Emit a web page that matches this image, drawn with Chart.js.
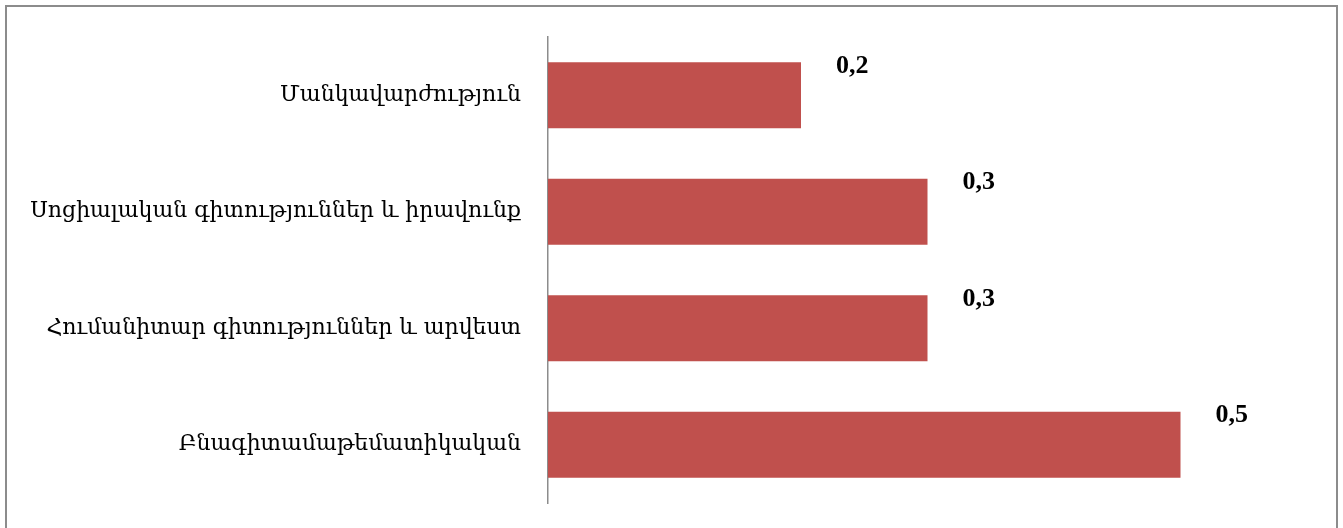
<!DOCTYPE html>
<html>
<head>
<meta charset="utf-8">
<script src="https://cdn.jsdelivr.net/npm/chart.js@4"></script>
<style>
  html, body { margin: 0; padding: 0; background: #fff; overflow: hidden; }
  #wrap { position: relative; width: 1343px; height: 528px; }
</style>
</head>
<body>
<div id="wrap"><canvas id="chart"></canvas></div>
<script>
const categories = [
  'Մանկավարժություն',
  'Սոցիալական գիտություններ և իրավունք',
  'Հումանիտար գիտություններ և արվեստ',
  'Բնագիտամաթեմատիկական'
];
const values = [0.2, 0.3, 0.3, 0.5];
const valueLabels = ['0,2', '0,3', '0,3', '0,5'];

const frame = {
  id: 'frame',
  beforeDraw(chart) {
    const ctx = chart.ctx;
    ctx.save();
    ctx.fillStyle = '#fff';
    ctx.fillRect(0, 0, chart.width, chart.height);
    ctx.strokeStyle = '#8c8c8c';
    ctx.lineWidth = 2;
    ctx.strokeRect(6, 6, 1331, 540);
    ctx.restore();
  }
};

const barLabels = {
  id: 'barLabels',
  afterDatasetsDraw(chart) {
    const ctx = chart.ctx;
    const meta = chart.getDatasetMeta(0);
    ctx.save();
    ctx.font = 'bold 26px "Liberation Serif"';
    ctx.fillStyle = '#000';
    ctx.textAlign = 'left';
    ctx.textBaseline = 'middle';
    meta.data.forEach((bar, i) => {
      ctx.fillText(valueLabels[i], bar.x + 35, bar.y - bar.height / 2 + 4);
    });
    ctx.restore();
  }
};

new Chart(document.getElementById('chart'), {
  type: 'bar',
  data: {
    labels: categories,
    datasets: [{
      data: values,
      backgroundColor: '#C0504D',
      borderWidth: 0,
      barPercentage: 0.567,
      categoryPercentage: 1
    }]
  },
  options: {
    indexAxis: 'y',
    responsive: true,
    maintainAspectRatio: false,
    animation: false,
    layout: { padding: { top: 37, bottom: 25, right: 36, left: 0 } },
    plugins: { legend: { display: false }, tooltip: { enabled: false } },
    scales: {
      x: { display: false, min: 0, max: 0.6 },
      y: {
        grid: { display: true, color: 'transparent', drawOnChartArea: false, drawTicks: true, tickLength: 27 },
        border: { display: true, color: '#8c8c8c', width: 1.5 },
        ticks: { color: '#000', padding: 0, font: { family: '"DejaVu Serif"', size: 22 } },
        afterFit(scale) { scale.width = 548; }
      }
    }
  },
  plugins: [frame, barLabels]
});
</script>
</body>
</html>
